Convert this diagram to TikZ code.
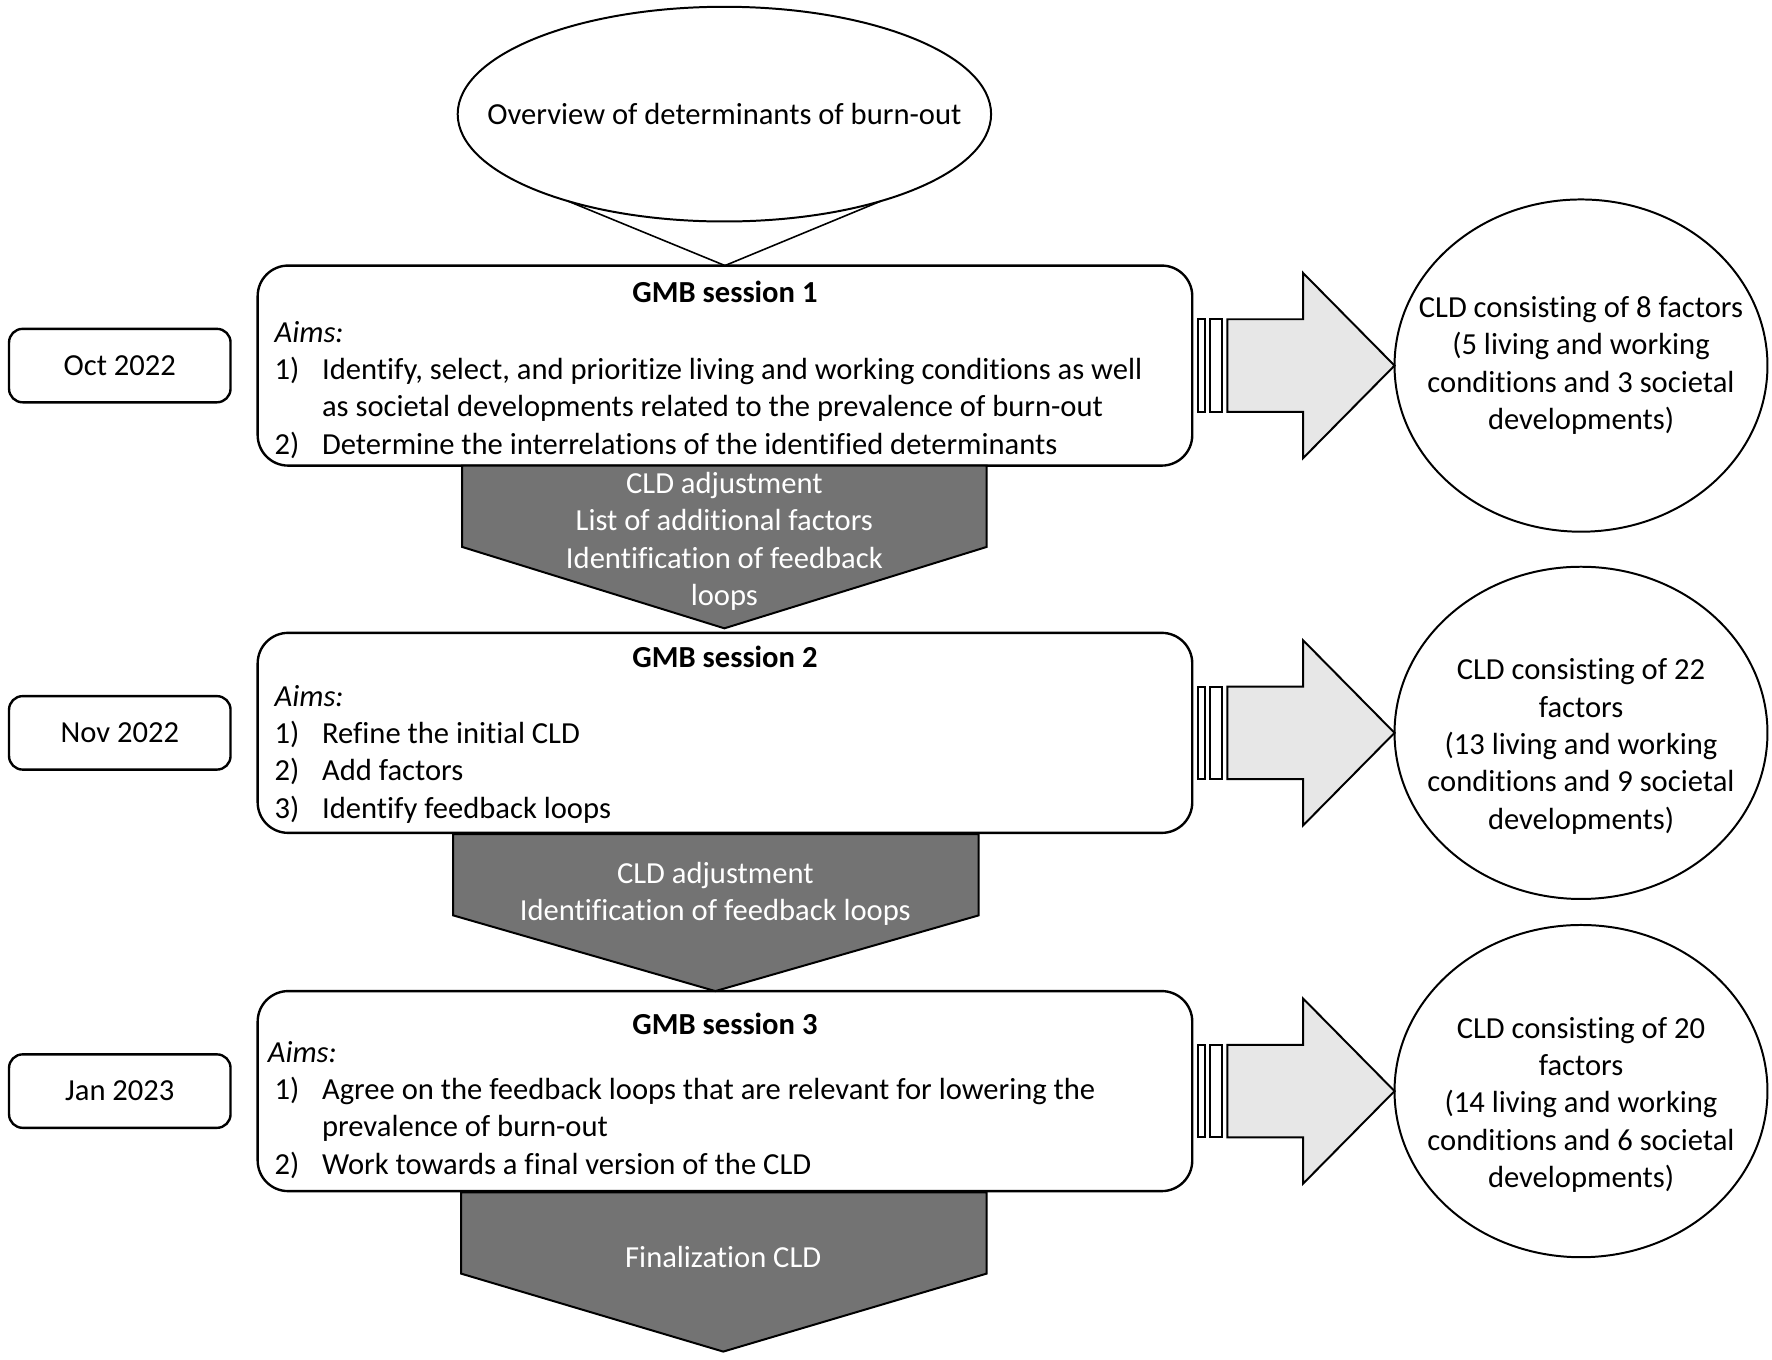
\documentclass[tikz,border=0pt]{standalone}
\usepackage{fontspec}
\setmainfont{Carlito}[Ligatures=NoCommon]
\usetikzlibrary{calc,positioning,shapes.geometric}
\definecolor{stepgray}{RGB}{115,115,115}
\definecolor{arrowgray}{RGB}{231,231,231}
\newcommand{\aimno}[1]{\makebox[4.2mm][l]{#1}}
\newcommand{\aimcont}{\hspace*{4.2mm}}
\tikzset{
	every node/.style={font=\fontsize{7.7}{9.4}\selectfont, inner sep=0pt, outer sep=0pt},
	session/.style={draw, line width=0.6pt, rounded corners=2.7mm, minimum width=82.7mm, minimum height=17.7mm},
	datebox/.style={draw, line width=0.6pt, rounded corners=1.2mm, minimum width=19.6mm, minimum height=6.5mm},
	cld/.style={draw, ellipse, line width=0.5pt, minimum width=33mm, minimum height=29.4mm},
	cldtext/.style={align=center},
	sessiontitle/.style={anchor=base, font=\fontsize{7.7}{9.4}\selectfont\bfseries},
	aims/.style={anchor=base west, align=left},
	stepdown/.style={draw, line width=0.5pt, fill=stepgray},
	steptext/.style={align=center, text=white},
	pics/striped/.style={code={
		\draw[line width=0.5pt, fill=white] (-174,-41) rectangle (-168,41);
		\draw[line width=0.5pt, fill=white] (-163,-41) rectangle (-153,41);
		\draw[line width=0.5pt, fill=arrowgray] (-148,-41) -- (-81,-41) -- (-81,-82) -- (0,0) -- (-81,82) -- (-81,41) -- (-148,41) -- cycle;
	}}
}
\begin{document}
\begin{tikzpicture}[x=0.1mm,y=-0.1mm]
		\useasboundingbox (0,0) rectangle (1568,1203);
		
		% sessions
		\node[session] (s1) at (641.5,323.5) {};
		\node[session, below=14.8mm of s1] (s2) {};
		\node[session, below=14mm of s2] (s3) {};
		
		% dates
		\node[datebox, left=2.4mm of s1] (d1) {Oct 2022};
		\node[datebox, left=2.4mm of s2] (d2) {Nov 2022};
		\node[datebox, left=2.4mm of s3] (d3) {Jan 2023};
		
		% resulting CLDs
		\node[cld, right=17.9mm of s1] (c1) {};
		\node[cld, right=17.9mm of s2] (c2) {};
		\node[cld, right=17.9mm of s3] (c3) {};
		\node[cldtext] at (c1) {CLD consisting of 8 factors\\(5 living and working\\conditions and 3 societal\\developments)};
		\node[cldtext, yshift=-1.2mm] at (c2) {CLD consisting of 22\\factors\\(13 living and working\\conditions and 9 societal\\developments)};
		\node[cldtext, yshift=-1.2mm] at (c3) {CLD consisting of 20\\factors\\(14 living and working\\conditions and 6 societal\\developments)};
		
		\foreach \c in {c1,c2,c3}
			\pic at (\c.west) {striped};
		
		% overview callout
		\node[draw, ellipse, line width=0.5pt, minimum width=47.2mm, minimum height=19mm] (ov) at (641,101) {};
		\node at (ov) {Overview of determinants of burn-out};
		\draw[line width=0.4pt] (ov.209) -- (s1.north) -- (ov.331);
		
		% session texts (base = last line)
		\node[sessiontitle] at (641.5,268) {GMB session 1};
		\node[aims] at (243,402) {\textit{Aims:}\\
			\aimno{1)}Identify, select, and prioritize living and working conditions as well\\
			\aimcont as societal developments related to the prevalence of burn-out\\
			\aimno{2)}Determine the interrelations of the identified determinants};
		
		\node[sessiontitle] at (641.5,591) {GMB session 2};
		\node[aims] at (243,724) {\textit{Aims:}\\
			\aimno{1)}Refine the initial CLD\\
			\aimno{2)}Add factors\\
			\aimno{3)}Identify feedback loops};
		
		\node[sessiontitle] at (641.5,915) {GMB session 3};
		\node[aims] at (237,1039) {\textit{Aims:}\\
			\hspace*{0.6mm}\aimno{1)}Agree on the feedback loops that are relevant for lowering the\\
			\hspace*{0.6mm}\aimcont prevalence of burn-out\\
			\hspace*{0.6mm}\aimno{2)}Work towards a final version of the CLD};
		
		% steps between sessions
		\draw[stepdown] (409,412) -- (873,412) -- (873,484) -- (641,556) -- (409,484) -- cycle;
		\node[steptext] at (641,479) {CLD adjustment\\List of additional factors\\Identification of feedback\\loops};
		
		\draw[stepdown] (401,738) -- (866,738) -- (866,810) -- (633,877) -- (401,810) -- cycle;
		\node[steptext] at (633,791) {CLD adjustment\\Identification of feedback loops};
		
		\draw[stepdown] (408,1055) -- (873,1055) -- (873,1127) -- (640,1196) -- (408,1127) -- cycle;
		\node[steptext] at (640,1112) {Finalization CLD};
\end{tikzpicture}
\end{document}
